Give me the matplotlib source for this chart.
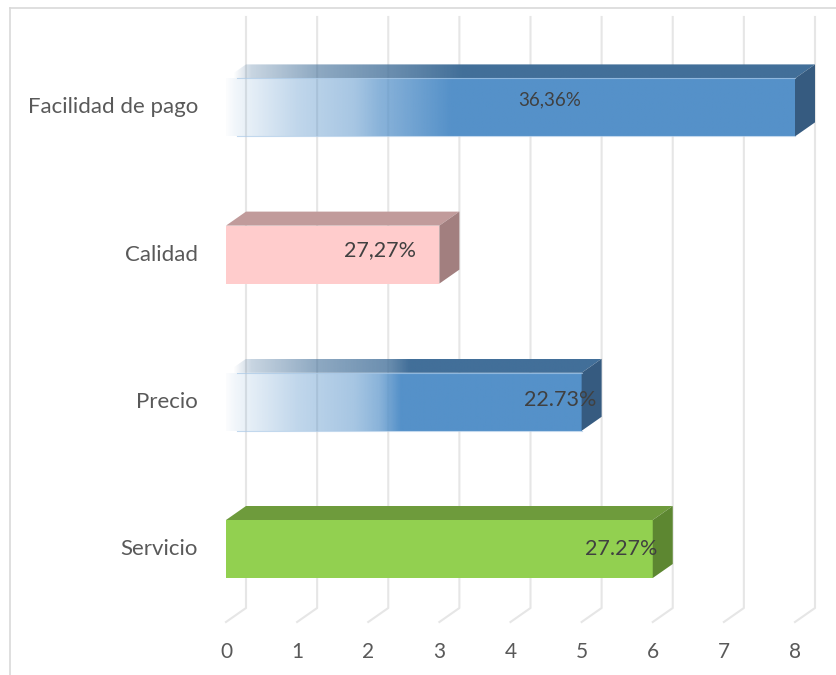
import matplotlib.pyplot as plt
from matplotlib.patches import Polygon
from matplotlib.lines import Line2D
from matplotlib.colors import to_rgb
import numpy as np

plt.rcParams['font.family'] = ['Lato', 'DejaVu Sans']

# datos (de abajo hacia arriba)
categories = ['Servicio', 'Precio', 'Calidad', 'Facilidad de pago']
values = [6, 5, 3, 8]
labels = ['27.27%', '22.73%', '27,27%', '36,36%']
ticks = [0, 1, 2, 3, 4, 5, 6, 7, 8]

# estilo de cada barra
front_colors = ['#92d050', '#5591c9', '#ffcccc', '#5591c9']
top_colors = ['#6e9b3c', '#426f99', '#c19b9b', '#426f99']
side_colors = ['#5d8731', '#365b80', '#a27f7f', '#365b80']
gradient = [False, True, False, True]   # degradado en las barras azules
fade_end = [None, 2.45, None, 3.15]
label_x = [5.55, 4.7, 2.17, 4.55]
label_dy = [0.0, 0.015, 0.03, 0.05]
label_size = [15.5, 15.5, 15.5, 13.5]

W, H = 836, 675
fig = plt.figure(figsize=(W / 100, H / 100), dpi=100)
ax = fig.add_axes([0, 0, 1, 1])
ax.axis('off')

# escala: 0 -> x=226px, 8 -> x=795px ; categoria i -> y = 549 - 147.2*i
ux = (795 - 226) / 8
uy = 147.2
h = 58 / uy          # alto de la barra
dx = 20 / ux         # profundidad 3D
dy = 14 / uy
floor = (549 - 622) / uy
top = (549 - 17) / uy

grid_c = '#e6e6e6'
for k in ticks:
    ax.plot([k, k + dx, k + dx], [floor, floor + dy, top], color=grid_c, lw=1.5, zorder=1)
    ax.text(k, (549 - 652) / uy, str(k), ha='center', va='center', fontsize=15, color='#595959')


def ramp_image(color, x0, x1, sx, sa, n=500):
    xs = np.linspace(x0, x1, n)
    a = np.interp(xs, sx, sa)
    img = np.zeros((2, n, 4))
    img[..., :3] = to_rgb(color)
    img[..., 3] = a
    return img


for i, (cat, v) in enumerate(zip(categories, values)):
    y0, y1 = i - h / 2, i + h / 2
    front = [(0, y0), (v, y0), (v, y1), (0, y1)]
    topf = [(0, y1), (v, y1), (v + dx, y1 + dy), (dx, y1 + dy)]
    side = [(v, y0), (v + dx, y0 + dy), (v + dx, y1 + dy), (v, y1)]
    if not gradient[i]:
        ax.add_patch(Polygon(front, closed=True, fc=front_colors[i], ec='none', zorder=3))
        ax.add_patch(Polygon(topf, closed=True, fc=top_colors[i], ec='none', zorder=3))
    else:
        fe = fade_end[i]
        fsx = [-0.04, 0.12, 1.0, 1.8, 2.15, fe]
        fsa = [0.0, 0.08, 0.37, 0.52, 0.69, 1.0]
        ax.imshow(ramp_image(front_colors[i], 0, v, fsx, fsa), extent=[0, v, y0, y1],
                  aspect='auto', interpolation='bilinear', zorder=3)
        # borde claro arriba y abajo
        ax.plot([0.15, v], [y1, y1], color='#a9c8e6', lw=0.8, alpha=0.7, zorder=3.5)
        ax.plot([0.15, v], [y0, y0], color='#a9c8e6', lw=0.8, alpha=0.7, zorder=3.5)
        clip = Polygon(topf, closed=True, fc='none', ec='none', transform=ax.transData)
        ax.add_patch(clip)
        tsx = [0.1, 0.35, 1.28, 2.27, fe * 1.05]
        tsa = [0.0, 0.29, 0.6, 0.78, 1.0]
        im2 = ax.imshow(ramp_image(top_colors[i], 0, v + dx, tsx, tsa),
                        extent=[0, v + dx, y1, y1 + dy],
                        aspect='auto', interpolation='bilinear', zorder=3)
        im2.set_clip_path(clip)
    ax.add_patch(Polygon(side, closed=True, fc=side_colors[i], ec='none', zorder=3))

    ax.text(label_x[i], i + label_dy[i], labels[i], ha='center', va='center',
            fontsize=label_size[i], color='#404040', zorder=5)
    ax.text(-28 / ux, i, cat, ha='right', va='center', fontsize=16, color='#595959')

ax.set_xlim(-226 / ux, (W - 226) / ux)
ax.set_ylim((549 - H) / uy, 549 / uy)

# marco del grafico
fig.add_artist(Line2D([10 / W, 10 / W], [0, 1 - 8 / H], color='#d9d9d9', lw=1.2))
fig.add_artist(Line2D([10 / W, 1], [1 - 8 / H, 1 - 8 / H], color='#d9d9d9', lw=1.2))

fig.savefig('out.png', dpi=100)
